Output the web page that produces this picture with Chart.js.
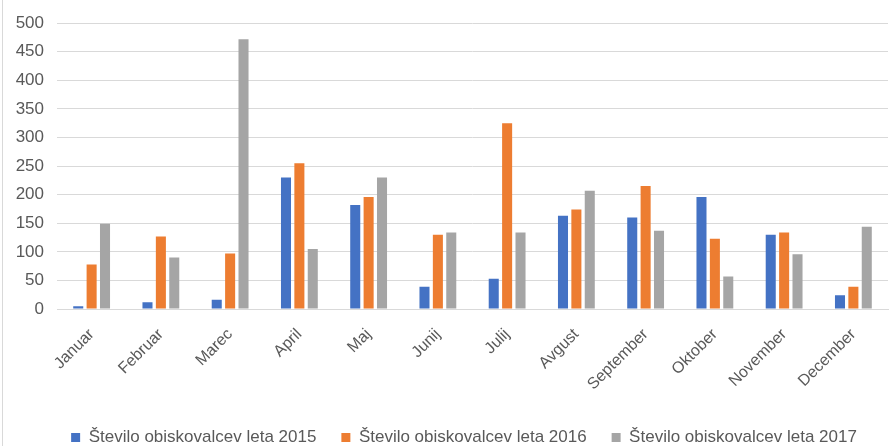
<!DOCTYPE html>
<html>
<head>
<meta charset="utf-8">
<script src="https://cdn.jsdelivr.net/npm/chart.js@4/dist/chart.umd.min.js"></script>
<style>
  html, body { margin: 0; padding: 0; background: #fff; }
  #wrap { position: relative; width: 891px; height: 446px; }
  #edge { position: absolute; left: 2px; top: 0; width: 1px; height: 446px; background: #d9d9d9; }
</style>
</head>
<body>
<div id="wrap">
  <canvas id="c" width="891" height="446"></canvas>
  <div id="edge"></div>
</div>
<script>
var months = ["Januar", "Februar", "Marec", "April", "Maj", "Junij", "Julij",
  "Avgust", "September", "Oktober", "November", "December"];
var visitors2015 = [5, 12, 16, 230, 182, 39, 53, 163, 160, 196, 130, 24];
var visitors2016 = [78, 127, 97, 255, 196, 130, 325, 174, 215, 123, 134, 39];
var visitors2017 = [149, 90, 472, 105, 230, 134, 134, 207, 137, 57, 96, 144];
var seriesLabels = [
  "Število obiskovalcev leta 2015",
  "Število obiskovalcev leta 2016",
  "Število obiskovalcev leta 2017"
];

(function () {
  var font = "'Liberation Sans', Arial, sans-serif";
  var grey = "#595959";

  function ds(label, data, color) {
    return {
      label: label,
      data: data,
      backgroundColor: color,
      borderWidth: 0,
      categoryPercentage: 0.58,
      barPercentage: 0.75
    };
  }

  new Chart(document.getElementById("c").getContext("2d"), {
    type: "bar",
    data: {
      labels: months,
      datasets: [
        ds(seriesLabels[0], visitors2015, "#4472C4"),
        ds(seriesLabels[1], visitors2016, "#ED7D31"),
        ds(seriesLabels[2], visitors2017, "#A5A5A5")
      ]
    },
    options: {
      responsive: false,
      animation: false,
      // legend padding is big for the wide item spacing; pull it down a bit
      layout: { padding: { left: 0, right: 3, top: 12, bottom: -10 } },
      plugins: {
        tooltip: { enabled: false },
        legend: {
          position: "bottom",
          labels: {
            color: grey,
            font: { family: font, size: 17 },
            boxWidth: 9,
            boxHeight: 9,
            padding: 25
          }
        }
      },
      scales: {
        x: {
          grid: { display: false },
          border: { color: "#d9d9d9" },
          afterFit: function (scale) {
            scale.height = 95;
          },
          ticks: {
            color: grey,
            font: { family: font, size: 16 },
            maxRotation: 45,
            minRotation: 45,
            padding: 8
          }
        },
        y: {
          min: 0,
          max: 500,
          grid: { color: "#d9d9d9", drawTicks: false },
          border: { display: false },
          afterFit: function (scale) {
            scale.width = 57;
          },
          ticks: {
            stepSize: 50,
            color: grey,
            font: { family: font, size: 17 },
            padding: 13
          }
        }
      }
    },
    plugins: [{
      id: "legendNudge",
      afterLayout: function (chart) {
        // the original legend sits a little right of the canvas centre
        chart.legend.left += 20;
        chart.legend.right += 20;
      }
    }]
  });
})();
</script>
</body>
</html>
